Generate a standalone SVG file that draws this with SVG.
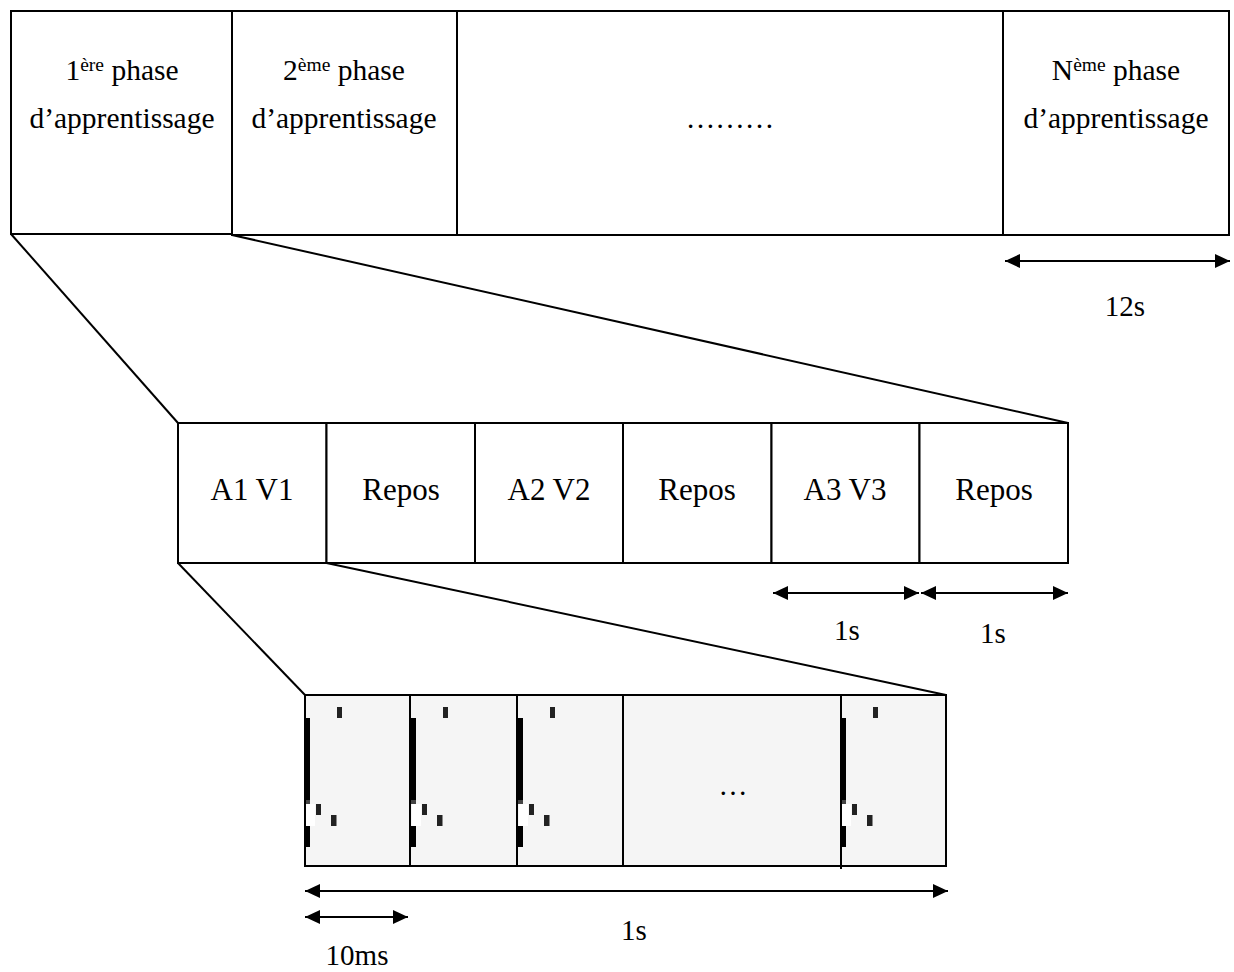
<svg xmlns="http://www.w3.org/2000/svg" width="1234" height="972" viewBox="0 0 1234 972">
<defs>
<style>
.b{fill:#fff;stroke:#000;stroke-width:2}
.t{font-family:"Liberation Serif","Times New Roman",serif;font-size:29.5px;fill:#000;text-anchor:middle}
.m{font-family:"Liberation Serif","Times New Roman",serif;font-size:31px;fill:#000;text-anchor:middle}
.l{font-family:"Liberation Serif","Times New Roman",serif;font-size:29px;fill:#000;text-anchor:middle}
.sup{font-size:19.5px}
.c{stroke:#000;stroke-width:2;fill:none}
.a{stroke:#000;stroke-width:2;fill:none;marker-start:url(#ah);marker-end:url(#ah)}
.p{fill:#f5f5f5;stroke:#000;stroke-width:2}
.k{fill:#000}
.d{fill:#222}
</style>
<marker id="ah" markerUnits="userSpaceOnUse" markerWidth="16" markerHeight="16" viewBox="0 0 16 16" refX="15" refY="8" orient="auto-start-reverse">
<path d="M0,1 L15,8 L0,15 Z" fill="#000"/>
</marker>
<g id="marks">
<rect class="k" x="0" y="718" width="5" height="82"/>
<rect fill="#444" x="0" y="800" width="5" height="4"/>
<rect fill="#fff" x="1" y="804" width="9" height="22"/>
<rect class="k" x="0" y="826" width="5" height="21"/>
<rect class="d" x="32" y="707" width="5" height="11"/>
<rect class="d" x="11" y="804" width="5" height="11"/>
<rect class="d" x="26" y="815" width="5.5" height="11"/>
</g>
</defs>

<g id="phase1">
<rect class="b" x="11" y="11" width="221" height="223"/>
<text class="t" x="122" y="80">1<tspan class="sup" dy="-9">ère</tspan><tspan dy="9"> phase</tspan></text>
<text class="t" x="122" y="128">d’apprentissage</text>
</g>
<g id="phase2">
<rect class="b" x="232" y="11" width="225" height="224"/>
<text class="t" x="344" y="80">2<tspan class="sup" dy="-9">ème</tspan><tspan dy="9"> phase</tspan></text>
<text class="t" x="344" y="128">d’apprentissage</text>
</g>
<g id="phase-dots">
<rect class="b" x="457" y="11" width="546" height="224"/>
<text class="t" x="730" y="128">………</text>
</g>
<g id="phaseN">
<rect class="b" x="1003" y="11" width="226" height="224"/>
<text class="t" x="1116" y="80">N<tspan class="sup" dy="-9">ème</tspan><tspan dy="9"> phase</tspan></text>
<text class="t" x="1116" y="128">d’apprentissage</text>
</g>

<g id="seg-a1v1"><rect class="b" x="178" y="423" width="148.5" height="140"/><text class="m" x="252" y="500">A1 V1</text></g>
<g id="seg-repos1"><rect class="b" x="326.5" y="423" width="148.5" height="140"/><text class="m" x="401" y="500">Repos</text></g>
<g id="seg-a2v2"><rect class="b" x="475" y="423" width="148" height="140"/><text class="m" x="549" y="500">A2 V2</text></g>
<g id="seg-repos2"><rect class="b" x="623" y="423" width="148.5" height="140"/><text class="m" x="697" y="500">Repos</text></g>
<g id="seg-a3v3"><rect class="b" x="771.5" y="423" width="148" height="140"/><text class="m" x="845" y="500">A3 V3</text></g>
<g id="seg-repos3"><rect class="b" x="919.5" y="423" width="148.5" height="140"/><text class="m" x="994" y="500">Repos</text></g>

<g id="trains">
<rect class="p" x="305" y="695" width="641" height="171"/>
<use href="#marks" x="305"/>
<use href="#marks" x="411"/>
<use href="#marks" x="518"/>
<use href="#marks" x="841"/>
<line class="c" x1="410" y1="695" x2="410" y2="866"/>
<line class="c" x1="517" y1="695" x2="517" y2="866"/>
<line class="c" x1="623" y1="695" x2="623" y2="866"/>
<line class="c" x1="841" y1="695" x2="841" y2="869"/>
<rect x="305" y="695" width="641" height="171" fill="none" stroke="#000" stroke-width="2"/>
<text class="l" x="733" y="795">…</text>
</g>

<g id="connectors">
<line class="c" x1="11" y1="234" x2="178" y2="423"/>
<line class="c" x1="232" y1="235" x2="1068" y2="423"/>
<line class="c" x1="178" y1="563" x2="305" y2="695"/>
<line class="c" x1="326.5" y1="563" x2="946" y2="695"/>
<line class="a" x1="1005" y1="261" x2="1230" y2="261"/>
<line class="a" x1="773" y1="593" x2="919" y2="593"/>
<line class="a" x1="921" y1="593" x2="1068" y2="593"/>
<line class="a" x1="305" y1="891" x2="948" y2="891"/>
<line class="a" x1="305" y1="917" x2="408" y2="917"/>
</g>

<g id="labels">
<text class="l" x="1125" y="316">12s</text>
<text class="l" x="847" y="640">1s</text>
<text class="l" x="993" y="643">1s</text>
<text class="l" x="634" y="940">1s</text>
<text class="l" x="357" y="965">10ms</text>
</g>
</svg>
